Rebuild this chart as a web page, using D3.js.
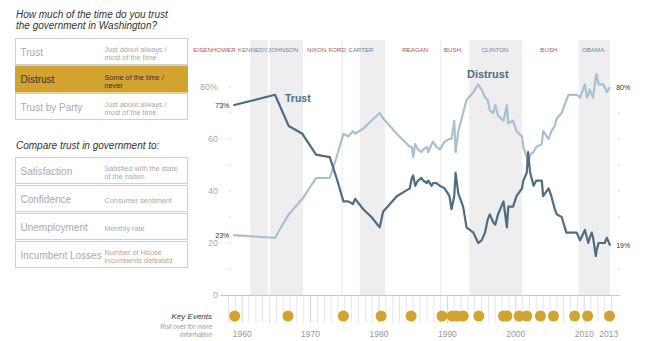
<!DOCTYPE html>
<html>
<head>
<meta charset="utf-8">
<script src="https://cdn.jsdelivr.net/npm/d3@7"></script>
<style>
  body { margin: 0; background: #fff; }
  svg { display: block; font-family: "Liberation Sans", Arial, sans-serif; }
</style>
</head>
<body>
<svg width="650" height="341"></svg>
<script>
// poll dates (decimal years) and share answering each way, in percent
var years = [1958.7, 1964.8, 1966.8, 1968.8, 1970.8, 1972.8, 1973.8, 1974.8, 1975.5, 1976.2,
  1976.5, 1977.7, 1978.9, 1980.1, 1980.6, 1982.6, 1984.5, 1984.8, 1985.0, 1985.3,
  1985.7, 1986.2, 1986.5, 1987.0, 1987.2, 1987.7, 1987.9, 1988.4, 1988.9, 1989.6,
  1990.3, 1990.6, 1991.0, 1991.2, 1991.6, 1992.3, 1992.8, 1993.8, 1994.5, 1995.0,
  1995.5, 1995.9, 1996.2, 1996.7, 1997.0, 1997.4, 1998.2, 1998.7, 1998.9, 1999.6,
  2000.1, 2000.9, 2001.1, 2001.6, 2001.8, 2002.1, 2002.6, 2003.0, 2003.8, 2004.0,
  2004.8, 2005.2, 2005.7, 2006.0, 2006.7, 2007.4, 2007.7, 2008.9, 2009.4, 2010.1,
  2010.4, 2010.6, 2010.8, 2011.1, 2011.3, 2011.7, 2011.8, 2012.1, 2012.8, 2013.0,
  2013.3, 2013.8]

var trust = [73, 77, 65, 62, 54, 53, 45, 36, 36, 35,
  37, 33, 30, 26, 32, 38, 41, 45, 46, 42,
  44, 45, 44, 43, 44, 42, 43, 43, 42, 41,
  38, 33, 38, 47, 39, 34, 26, 24, 20, 21,
  24, 29, 31, 28, 27, 31, 36, 26, 34, 34,
  38, 41, 44, 47, 55, 47, 42, 44, 44, 38,
  41, 38, 33, 31, 30, 24, 24, 24, 21, 25,
  22, 20, 22, 24, 22, 15, 17, 20, 20, 20,
  22, 19]

var distrust = [23, 22, 31, 37, 45, 45, 53, 62, 61, 63,
  62, 64, 67, 70, 68, 62, 57, 57, 53, 58,
  56, 55, 56, 57, 55, 58, 59, 57, 56, 59,
  60, 60, 67, 55, 63, 70, 75, 78, 81, 79,
  76, 75, 71, 70, 73, 69, 67, 73, 66, 67,
  63, 61, 57, 53, 51, 54, 55, 57, 58, 63,
  60, 63, 65, 68, 70, 75, 77, 77, 76, 81,
  76, 77, 79, 77, 76, 84, 85, 81, 81, 80,
  78, 80]

var presidents = ["EISENHOWER", "KENNEDY", "JOHNSON", "NIXON", "FORD", "CARTER",
  "REAGAN", "BUSH", "CLINTON", "BUSH", "OBAMA"]
var party = ["R", "D", "D", "R", "R", "D", "R", "R", "D", "R", "D"]
var termStart = [1953.05, 1961.05, 1963.9, 1969.05, 1974.6, 1977.05, 1981.05, 1989.05, 1993.05, 2001.05, 2009.05]
var termEnd = [1961.05, 1963.9, 1969.05, 1974.6, 1977.05, 1981.05, 1989.05, 1993.05, 2001.05, 2009.05, 2013.9]
var labelYear = [1955.95, 1961.55, 1966.0, 1970.9, 1973.9, 1977.35, 1985.3, 1990.75, 1996.95, 2004.85, 2011.3]

var eventYears = [1958.9, 1966.7, 1974.8, 1980.3, 1984.7, 1989.2, 1990.7, 1991.4, 1992.3, 1994.6,
  1998.2, 1998.7, 2000.5, 2001.6, 2003.6, 2005.5, 2008.6, 2010.5, 2013.7]

var tickYears = [1960, 1970, 1980, 1990, 2000, 2010, 2013]
var yTicks = [0, 20, 40, 60, 80]

var measures = ["Trust", "Distrust", "Trust by Party"]
var measureNotes = [["Just about always /", "most of the time"], ["Some of the time /", "never"],
  ["Just about always /", "most of the time"]]
var compares = ["Satisfaction", "Confidence", "Unemployment", "Incumbent Losses"]
var compareNotes = [["Satisfied with the state", "of the nation"], ["Consumer sentiment"],
  ["Monthly rate"], ["Number of House", "incumbents defeated"]]

var gold = "#d2a32e"
var trustColor = "#4e6c84"
var distrustColor = "#a9c0d0"

var svg = d3.select("svg")

// ---- left hand menu
function title(lines, y0) {
  svg.append("text")
    .attr("x", 16)
    .attr("y", y0)
    .style("font-size", "10px")
    .style("font-style", "italic")
    .style("fill", "#333")
    .selectAll("tspan")
    .data(lines)
    .join("tspan")
      .attr("x", 16)
      .attr("dy", function(d, i) { return i ? 11 : 0 })
      .text(function(d) { return d })
}

function menu(labels, notes, y0, step, active) {
  var row = svg.append("g").selectAll("g")
    .data(labels)
    .join("g")
      .attr("transform", function(d, i) { return "translate(15.5," + (y0 + i * step + 0.5) + ")" })

  row.append("rect")
    .attr("width", 172)
    .attr("height", 26)
    .style("fill", function(d, i) { return i === active ? gold : "#fff" })
    .style("stroke", function(d, i) { return i === active ? gold : "#cfcfcf" })

  row.append("text")
    .attr("x", 5)
    .attr("y", 17)
    .style("font-size", "10px")
    .style("fill", function(d, i) { return i === active ? "#333" : "#aaa" })
    .text(function(d) { return d })

  row.append("text")
    .style("font-size", "7.3px")
    .style("fill", function(d, i) { return i === active ? "#333" : "#aaa" })
    .selectAll("tspan")
    .data(function(d, i) { return notes[i] })
    .join("tspan")
      .attr("x", 89)
      .attr("y", function(d, i, all) { return all.length === 1 ? 17 : 13.5 + i * 8 })
      .text(function(d) { return d })
}

title(["How much of the time do you trust", "the government in Washington?"], 18)
menu(measures, measureNotes, 38, 27.5, 1)
title(["Compare trust in government to:"], 149)
menu(compares, compareNotes, 157, 28, -1)

// ---- chart
var x = d3.scaleLinear().domain([1958, 2015]).range([228.5, 618.4])
var y = d3.scaleLinear().domain([0, 80]).range([295, 87])
var bandTop = 40

var terms = presidents.map(function(name, i) {
  return { name: name, party: party[i], start: termStart[i], end: termEnd[i], at: labelYear[i], prev: party[i - 1] }
})

// shaded Democratic administrations
svg.append("g").selectAll("rect")
  .data(terms.filter(function(d) { return d.party === "D" }))
  .join("rect")
    .attr("x", function(d) { return x(d.start) + 1 })
    .attr("y", bandTop)
    .attr("width", function(d) { return x(d.end) - x(d.start) - 2 })
    .attr("height", y(0) - bandTop)
    .style("fill", "#eeeeee")

// thin rule between back to back Republican terms
svg.append("g").selectAll("line")
  .data(terms.filter(function(d) { return d.party === "R" && d.prev === "R" }))
  .join("line")
    .attr("x1", function(d) { return x(d.start) })
    .attr("x2", function(d) { return x(d.start) })
    .attr("y1", bandTop)
    .attr("y2", y(0))
    .style("stroke", "#e8e8e8")

svg.append("g").selectAll("text")
  .data(terms)
  .join("text")
    .attr("x", function(d) { return x(d.at) })
    .attr("y", 52)
    .attr("text-anchor", "middle")
    .style("font-size", "6.2px")
    .style("fill", function(d) { return d.party === "R" ? "#b9564c" : "#72869a" })
    .text(function(d) { return d.name })

// y axis: labels on the left, small dots at every ten
svg.append("g").selectAll("text")
  .data(yTicks)
  .join("text")
    .attr("x", 218)
    .attr("y", function(d) { return y(d) + 3 })
    .attr("text-anchor", "end")
    .style("font-size", "9px")
    .style("fill", "#aaa")
    .text(function(d) { return d === 80 ? "80%" : d })

svg.append("g").selectAll("circle")
  .data(d3.range(10, 90, 10))
  .join("circle")
    .attr("cx", 230)
    .attr("cy", function(d) { return y(d) })
    .attr("r", 0.8)
    .style("fill", "#ccc")

svg.append("g").selectAll("circle")
  .data([10, 30, 40, 50, 60, 70])
  .join("circle")
    .attr("cx", 619)
    .attr("cy", function(d) { return y(d) })
    .attr("r", 0.8)
    .style("fill", "#ccc")

// year ticks under the baseline
svg.append("g").selectAll("line")
  .data(d3.range(1958, 2015))
  .join("line")
    .attr("x1", function(d) { return x(d) })
    .attr("x2", function(d) { return x(d) })
    .attr("y1", y(0))
    .attr("y2", 323)
    .style("stroke", function(d) { return d % 10 === 0 ? "#d6d6d6" : "#e6e6e6" })

svg.append("line")
  .attr("x1", 220)
  .attr("x2", 620)
  .attr("y1", y(0) + 0.5)
  .attr("y2", y(0) + 0.5)
  .style("stroke", "#c8c8c8")

svg.append("g").selectAll("text")
  .data(tickYears)
  .join("text")
    .attr("x", function(d, i) { return x(d) + (i === tickYears.length - 1 ? 4 : 0) })
    .attr("y", 337)
    .attr("text-anchor", "middle")
    .style("font-size", "8.5px")
    .style("fill", "#999")
    .text(function(d) { return d })

// key events row
svg.append("g").selectAll("circle")
  .data(eventYears)
  .join("circle")
    .attr("cx", function(d) { return x(d) })
    .attr("cy", 316)
    .attr("r", 5.5)
    .style("fill", gold)

var key = svg.append("g").attr("text-anchor", "end").style("font-style", "italic")
key.append("text").attr("x", 212).attr("y", 319).style("font-size", "8px").style("fill", "#333").text("Key Events")
key.append("text").attr("x", 212).attr("y", 328.5).style("font-size", "6.5px").style("fill", "#999").text("Roll over for more")
key.append("text").attr("x", 212).attr("y", 337).style("font-size", "6.5px").style("fill", "#999").text("information")

// the two series
var line = d3.line()
  .x(function(d) { return x(d[0]) })
  .y(function(d) { return y(d[1]) })

svg.append("path")
  .datum(d3.zip(years, distrust))
  .attr("d", line)
  .style("fill", "none")
  .style("stroke", distrustColor)
  .style("stroke-width", 2.2)
  .style("stroke-linejoin", "round")

svg.append("path")
  .datum(d3.zip(years, trust))
  .attr("d", line)
  .style("fill", "none")
  .style("stroke", trustColor)
  .style("stroke-width", 2.2)
  .style("stroke-linejoin", "round")

// end values
var n = years.length - 1
var ends = [
  { v: trust[0], t: years[0], side: "start" },
  { v: distrust[0], t: years[0], side: "start" },
  { v: distrust[n], t: years[n], side: "end" },
  { v: trust[n], t: years[n], side: "end" }
]
svg.append("g").selectAll("text")
  .data(ends)
  .join("text")
    .attr("x", function(d) { return d.side === "start" ? x(d.t) - 4 : x(d.t) + 6 })
    .attr("y", function(d) { return y(d.v) + 2.5 })
    .attr("text-anchor", function(d) { return d.side === "start" ? "end" : "start" })
    .style("font-size", "7px")
    .style("fill", "#333")
    .text(function(d) { return d.v + "%" })

svg.append("text")
  .attr("x", 285)
  .attr("y", 102)
  .style("font-size", "10.5px")
  .style("font-weight", "bold")
  .style("fill", trustColor)
  .text("Trust")

svg.append("text")
  .attr("x", 467)
  .attr("y", 78)
  .style("font-size", "11px")
  .style("font-weight", "bold")
  .style("fill", trustColor)
  .text("Distrust")
</script>
</body>
</html>
